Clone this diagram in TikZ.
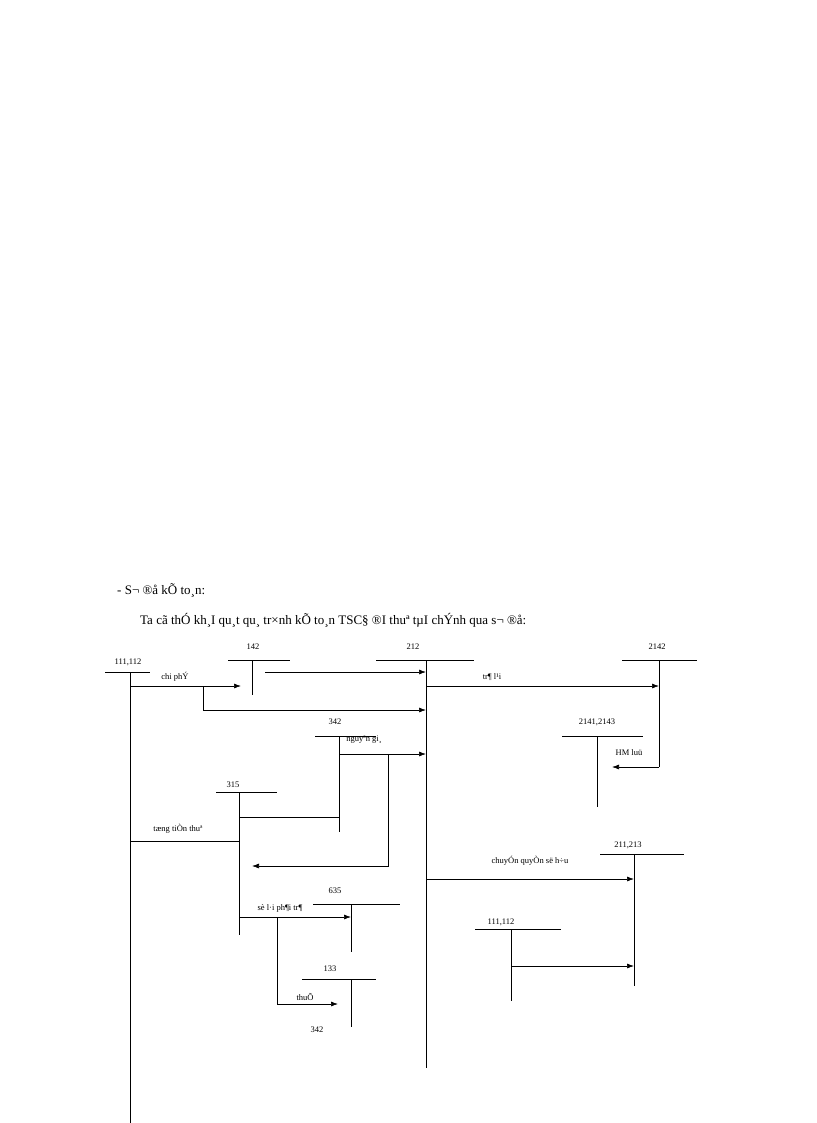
\documentclass[tikz,border=0pt]{standalone}
\usepackage{fontspec}
\setmainfont{Liberation Serif}
\usetikzlibrary{arrows.meta}
\begin{document}
\begin{tikzpicture}[x=1pt,y=-1pt,
  lab/.style={font=\fontsize{8.5}{10}\selectfont,inner sep=0pt},
  ln/.style={line width=0.7pt},
  arr/.style={ln,-{Latex[length=7pt,width=5pt]}}]
\useasboundingbox (0,0) rectangle (816,1123);
\node[font=\fontsize{13}{15}\selectfont,anchor=west,inner sep=0] (h1) at (117,590) {- S¬ ®å kÕ to¸n:};
\node[font=\fontsize{13}{15}\selectfont,anchor=west,inner sep=0] (h2) at (140,620) {Ta cã thÓ kh¸I qu¸t qu¸ tr×nh kÕ to¸n TSC§ ®I thuª tµI chÝnh qua s¬ ®å:};
% T accounts
\draw[ln] (105,672) -- (150,672) (130,672) -- (130,1123);
\node[lab] (a111) at (128,662) {111,112};
\draw[ln] (228,660) -- (290,660) (252,660) -- (252,695);
\node[lab] (a142) at (253,647) {142};
\draw[ln] (376,660) -- (474,660) (426,660) -- (426,1068);
\node[lab] (a212) at (413,647) {212};
\draw[ln] (622,660) -- (697,660) (659,660) -- (659,767);
\node[lab] (a2142) at (657,647) {2142};
\draw[ln] (315,736) -- (376,736) (339,736) -- (339,832);
\node[lab] (a342) at (335,722) {342};
\draw[ln] (562,736) -- (643,736) (597,736) -- (597,807);
\node[lab] (a2141) at (597,722) {2141,2143};
\draw[ln] (216,792) -- (277,792) (239,792) -- (239,935);
\node[lab] (a315) at (233,785) {315};
\draw[ln] (600,854) -- (684,854) (634,854) -- (634,986);
\node[lab] (a211) at (628,845) {211,213};
\draw[ln] (313,904) -- (400,904) (351,904) -- (351,952);
\node[lab] (a635) at (335,891) {635};
\draw[ln] (475,929) -- (561,929) (511,929) -- (511,1001);
\node[lab] (b111) at (501,922) {111,112};
\draw[ln] (302,979) -- (376,979) (351,979) -- (351,1027);
\node[lab] (a133) at (330,969) {133};
\node[lab] (b342) at (317,1030) {342};
% flows
\draw[arr] (130,686) -- (241,686);
\node[lab] (l1) at (175,677) {chi phÝ};
\draw[arr] (265,672) -- (426,672);
\draw[arr] (426,686) -- (659,686);
\node[lab] (l2) at (492,677) {tr¶ l¹i};
\draw[arr] (203,686) -- (203,710) -- (426,710);
\node[lab] (l3) at (364,740) {nguyªn gi¸};
\draw[arr] (339,754) -- (426,754);
\draw[arr] (388,754) -- (388,866) -- (252,866);
\draw[arr] (659,767) -- (612,767);
\node[lab] (l4) at (629,753) {HM luü};
\draw[ln] (239,817) -- (339,817);
\draw[ln] (130,841) -- (239,841);
\node[lab] (l5) at (178,829) {tæng tiÒn thuª};
\draw[arr] (426,879) -- (634,879);
\node[lab] (l6) at (530,861) {chuyÓn quyÒn së h÷u};
\draw[arr] (239,917) -- (351,917);
\node[lab,fill=white] (l7) at (280,908) {sè l·i ph¶i tr¶};
\draw[arr] (511,966) -- (634,966);
\draw[arr] (277,917) -- (277,1004) -- (338,1004);
\node[lab] (l8) at (305,997) {thuÕ};
\end{tikzpicture}
\end{document}
